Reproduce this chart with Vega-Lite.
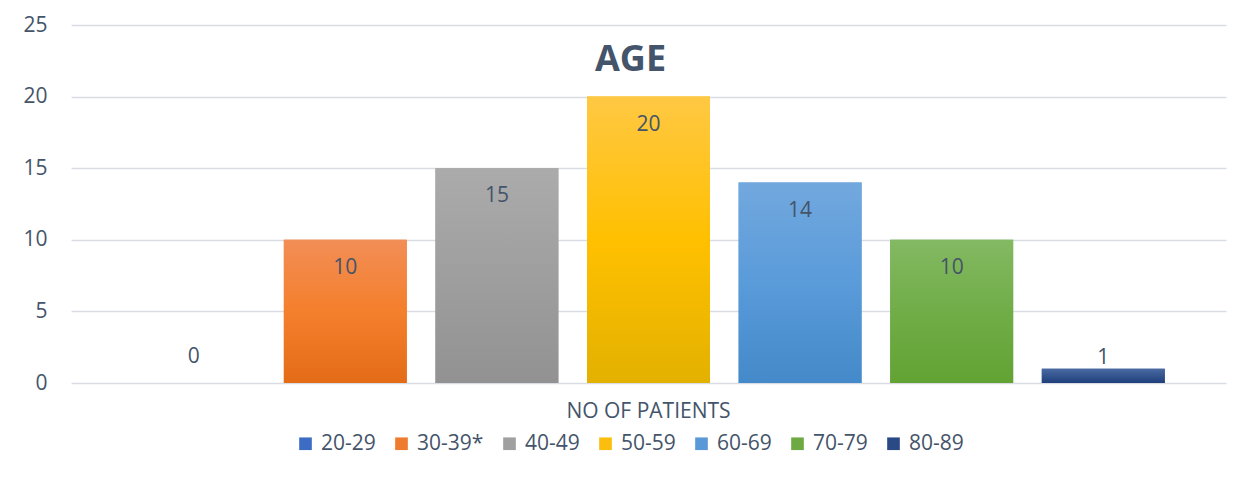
{
  "$schema": "https://vega.github.io/schema/vega-lite/v6.json",
  "autosize": "none",
  "width": 1155,
  "height": 358,
  "padding": {"left": 71, "top": 25, "right": 18, "bottom": 94},
  "background": "white",
  "title": {
    "text": "AGE",
    "orient": "top",
    "anchor": "middle",
    "frame": "group",
    "offset": 0,
    "baseline": "alphabetic",
    "dx": -18,
    "dy": 93,
    "font": "Open Sans",
    "fontSize": 36,
    "fontWeight": "bold",
    "color": "#44546A"
  },
  "data": {
    "values": [
      {"cat": "NO OF PATIENTS", "age": "20-29", "n": 0},
      {"cat": "NO OF PATIENTS", "age": "30-39*", "n": 10},
      {"cat": "NO OF PATIENTS", "age": "40-49", "n": 15},
      {"cat": "NO OF PATIENTS", "age": "50-59", "n": 20},
      {"cat": "NO OF PATIENTS", "age": "60-69", "n": 14},
      {"cat": "NO OF PATIENTS", "age": "70-79", "n": 10},
      {"cat": "NO OF PATIENTS", "age": "80-89", "n": 1}
    ]
  },
  "encoding": {
    "x": {
      "field": "cat",
      "type": "nominal",
      "scale": {"paddingInner": 0, "paddingOuter": 0},
      "axis": {
        "title": null,
        "domain": false,
        "ticks": false,
        "labelAngle": 0,
        "labelFont": "Open Sans",
        "labelFontSize": 21,
        "labelColor": "#44546A",
        "labelPadding": 17
      }
    },
    "xOffset": {
      "field": "age",
      "type": "nominal",
      "sort": ["20-29", "30-39*", "40-49", "50-59", "60-69", "70-79", "80-89"],
      "scale": {"paddingInner": 0.189, "paddingOuter": 0.404}
    },
    "y": {
      "field": "n",
      "type": "quantitative",
      "scale": {"domain": [0, 25]},
      "axis": {
        "title": null,
        "values": [0, 5, 10, 15, 20, 25],
        "domain": false,
        "ticks": false,
        "labelFont": "Open Sans",
        "labelFontSize": 21,
        "labelColor": "#44546A",
        "labelPadding": 24,
        "gridColor": "#D9DDE3",
        "gridWidth": 1.5
      }
    }
  },
  "layer": [
    {
      "mark": {"type": "bar"},
      "encoding": {
        "color": {
          "field": "age",
          "type": "nominal",
          "sort": ["20-29", "30-39*", "40-49", "50-59", "60-69", "70-79", "80-89"],
          "scale": {
            "domain": ["20-29", "30-39*", "40-49", "50-59", "60-69", "70-79", "80-89"],
            "range": ["#3D6CC4", "#EE7B2E", "#A0A0A0", "#FCBE0E", "#5A99D7", "#6EAA44", "#2A4A86"]
          },
          "legend": {
            "title": null,
            "orient": "none",
            "direction": "horizontal",
            "legendX": 224,
            "legendY": 408,
            "padding": 0,
            "symbolType": "square",
            "symbolSize": 160,
            "symbolStrokeWidth": 0,
            "labelFont": "Open Sans",
            "labelFontSize": 21,
            "labelColor": "#44546A",
            "labelOffset": 5,
            "columnPadding": 15
          }
        }
      }
    },
    {
      "mark": {"type": "bar"},
      "encoding": {
        "fill": {
          "condition": [
            {"test": "datum.age == '20-29'", "value": {"gradient": "linear", "x1": 0, "y1": 0, "x2": 0, "y2": 1, "stops": [{"offset": 0, "color": "#5A86D2"}, {"offset": 1, "color": "#2F5FB3"}]}},
            {"test": "datum.age == '30-39*'", "value": {"gradient": "linear", "x1": 0, "y1": 0, "x2": 0, "y2": 1, "stops": [{"offset": 0, "color": "#F28E56"}, {"offset": 0.5, "color": "#F47F2C"}, {"offset": 1, "color": "#E46C17"}]}},
            {"test": "datum.age == '40-49'", "value": {"gradient": "linear", "x1": 0, "y1": 0, "x2": 0, "y2": 1, "stops": [{"offset": 0, "color": "#ABABAB"}, {"offset": 1, "color": "#929292"}]}},
            {"test": "datum.age == '50-59'", "value": {"gradient": "linear", "x1": 0, "y1": 0, "x2": 0, "y2": 1, "stops": [{"offset": 0, "color": "#FFC843"}, {"offset": 0.5, "color": "#FFC000"}, {"offset": 1, "color": "#E3B100"}]}},
            {"test": "datum.age == '60-69'", "value": {"gradient": "linear", "x1": 0, "y1": 0, "x2": 0, "y2": 1, "stops": [{"offset": 0, "color": "#72A8DE"}, {"offset": 0.5, "color": "#5A9BDA"}, {"offset": 1, "color": "#4489C9"}]}},
            {"test": "datum.age == '70-79'", "value": {"gradient": "linear", "x1": 0, "y1": 0, "x2": 0, "y2": 1, "stops": [{"offset": 0, "color": "#84B963"}, {"offset": 0.5, "color": "#70AD47"}, {"offset": 1, "color": "#62A333"}]}}
          ],
          "value": {"gradient": "linear", "x1": 0, "y1": 0, "x2": 0, "y2": 1, "stops": [{"offset": 0, "color": "#4A6AA3"}, {"offset": 1, "color": "#1E3F7A"}]}
        }
      }
    },
    {
      "transform": [{"filter": "datum.n >= 5"}],
      "mark": {"type": "text", "dy": 28, "font": "Open Sans", "fontSize": 21, "color": "#44546A", "baseline": "middle"},
      "encoding": {"text": {"field": "n", "type": "quantitative"}}
    },
    {
      "transform": [{"filter": "datum.n == 1"}],
      "mark": {"type": "text", "dy": -11, "font": "Open Sans", "fontSize": 21, "color": "#44546A", "baseline": "middle"},
      "encoding": {"text": {"field": "n", "type": "quantitative"}}
    },
    {
      "transform": [{"filter": "datum.n == 0"}],
      "mark": {"type": "text", "dy": -26, "font": "Open Sans", "fontSize": 21, "color": "#44546A", "baseline": "middle"},
      "encoding": {"text": {"field": "n", "type": "quantitative"}}
    }
  ],
  "config": {
    "view": {"stroke": null}
  }
}
